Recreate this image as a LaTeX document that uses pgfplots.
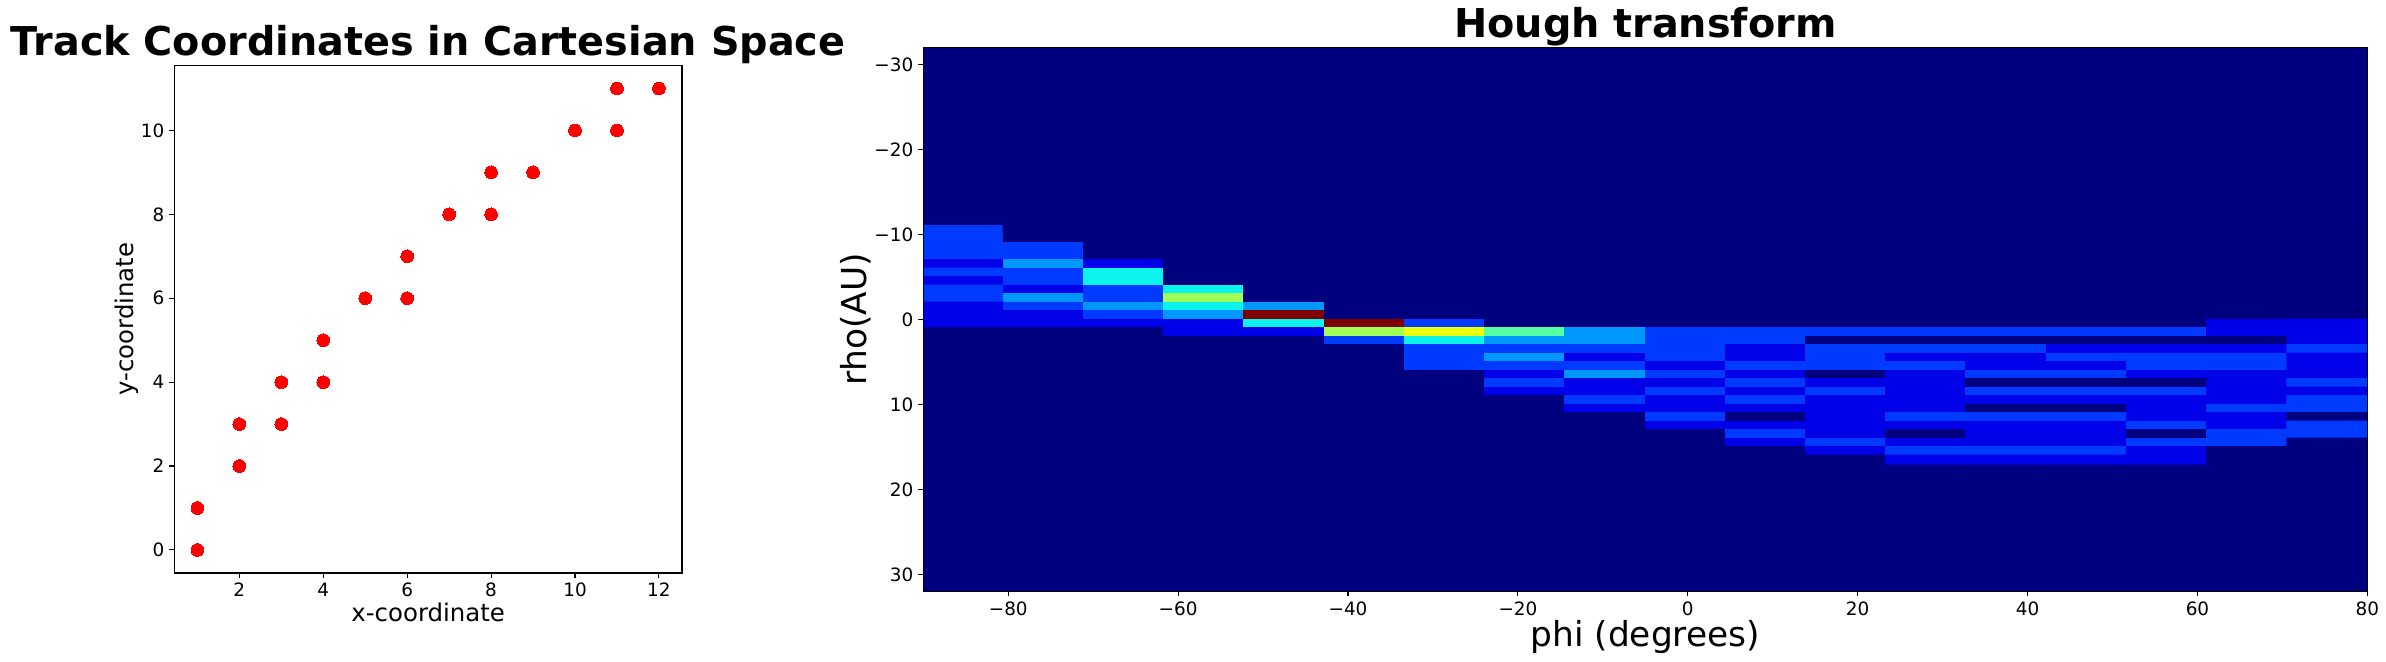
\documentclass[border=0pt]{standalone}
\usepackage{fontspec}
\setmainfont{DejaVu Sans}
\usepackage{pgfplots}
\pgfplotsset{compat=1.18}
\definecolor{jetzero}{rgb}{0,0,0.5}
\pgfplotsset{
  common/.style={
    scale only axis,
    anchor=south west,
    axis line style={black, line width=0.27pt},
    tick style={black, line width=0.27pt},
    major tick length=1.22pt,
    tick align=outside,
    xtick pos=bottom,
    ytick pos=left,
    /pgf/number format/assume math mode=true,
    ticklabel style={font=\fontsize{4.6}{5.5}\selectfont, inner sep=1.1pt},
    title style={font=\fontsize{9.93}{12}\selectfont\bfseries, anchor=base, at={(0.5,1)}, yshift=-3.65pt},
  },
  colormap={mpljet}{
    rgb255=(0,0,127) rgb255=(0,0,233) rgb255=(0,58,255) rgb255=(0,151,255)
    rgb255=(11,243,236) rgb255=(86,255,162) rgb255=(160,255,86) rgb255=(236,255,11)
    rgb255=(255,173,0) rgb255=(255,86,0) rgb255=(233,0,0) rgb255=(127,0,0)
  },
}
\begin{document}
\begin{tikzpicture}[x=0.25pt,y=0.25pt]
\useasboundingbox (0,0) rectangle (2386,662);

% left: hits in cartesian space
\begin{axis}[
  common,
  at={(43.575pt,22.25pt)},
  width=126.93pt, height=126.9pt,
  xmin=0.45, xmax=12.55,
  ymin=-0.55, ymax=11.55,
  xtick={2,4,6,8,10,12},
  ytick={0,2,4,6,8,10},
  title={Track Coordinates in Cartesian Space},
  xlabel={x-coordinate},
  ylabel={y-coordinate},
  label style={font=\fontsize{6.1}{7.3}\selectfont},
  xlabel style={at={(axis description cs:0.5,0)}, anchor=base, yshift=-12.2pt},
  ylabel style={at={(axis description cs:0,0.5)}, anchor=base, yshift=10.3pt},
]
\addplot[only marks, mark=*, mark size=1.59pt, mark options={fill=red, draw=red, line width=0pt}]
  coordinates {(1,0)(1,1)(2,2)(2,3)(3,3)(3,4)(4,4)(4,5)(5,6)(6,6)(6,7)(7,8)(8,8)(8,9)(9,9)(10,10)(11,10)(11,11)(12,11)};
\end{axis}

% right: accumulator, cells outside the table are empty (0)
\begin{axis}[
  common,
  at={(230.825pt,17.675pt)},
  width=361pt, height=136pt,
  axis on top,
  xmin=-90, xmax=80,
  ymin=-32, ymax=32,
  y dir=reverse,
  xtick={-80,-60,-40,-20,0,20,40,60,80},
  xticklabels={−80,−60,−40,−20,0,20,40,60,80},
  ytick={-30,-20,-10,0,10,20,30},
  yticklabels={−30,−20,−10,0,10,20,30},
  title={Hough transform},
  xlabel={phi (degrees)},
  ylabel={rho(AU)},
  label style={font=\fontsize{8.6}{10.3}\selectfont},
  xlabel style={at={(axis description cs:0.5,0)}, anchor=base, yshift=-13.9pt},
  ylabel style={at={(axis description cs:0,0.5)}, anchor=base, yshift=14.3pt},
  colormap name=mpljet,
  point meta min=0, point meta max=11,
  axis background/.style={fill=jetzero},
]
\addplot[matrix plot*, mesh/cols=18, point meta=explicit]
  table[x=x, y=y, meta=c, row sep=\\] {
x y c\\
-85.28 -10.5 2\\ -75.83 -10.5 0\\ -66.39 -10.5 0\\ -56.94 -10.5 0\\ -47.5 -10.5 0\\ -38.06 -10.5 0\\ -28.61 -10.5 0\\ -19.17 -10.5 0\\ -9.72 -10.5 0\\ -0.28 -10.5 0\\ 9.17 -10.5 0\\ 18.61 -10.5 0\\ 28.06 -10.5 0\\ 37.5 -10.5 0\\ 46.94 -10.5 0\\ 56.39 -10.5 0\\ 65.83 -10.5 0\\ 75.28 -10.5 0\\
-85.28 -9.5 2\\ -75.83 -9.5 0\\ -66.39 -9.5 0\\ -56.94 -9.5 0\\ -47.5 -9.5 0\\ -38.06 -9.5 0\\ -28.61 -9.5 0\\ -19.17 -9.5 0\\ -9.72 -9.5 0\\ -0.28 -9.5 0\\ 9.17 -9.5 0\\ 18.61 -9.5 0\\ 28.06 -9.5 0\\ 37.5 -9.5 0\\ 46.94 -9.5 0\\ 56.39 -9.5 0\\ 65.83 -9.5 0\\ 75.28 -9.5 0\\
-85.28 -8.5 2\\ -75.83 -8.5 2\\ -66.39 -8.5 0\\ -56.94 -8.5 0\\ -47.5 -8.5 0\\ -38.06 -8.5 0\\ -28.61 -8.5 0\\ -19.17 -8.5 0\\ -9.72 -8.5 0\\ -0.28 -8.5 0\\ 9.17 -8.5 0\\ 18.61 -8.5 0\\ 28.06 -8.5 0\\ 37.5 -8.5 0\\ 46.94 -8.5 0\\ 56.39 -8.5 0\\ 65.83 -8.5 0\\ 75.28 -8.5 0\\
-85.28 -7.5 2\\ -75.83 -7.5 2\\ -66.39 -7.5 0\\ -56.94 -7.5 0\\ -47.5 -7.5 0\\ -38.06 -7.5 0\\ -28.61 -7.5 0\\ -19.17 -7.5 0\\ -9.72 -7.5 0\\ -0.28 -7.5 0\\ 9.17 -7.5 0\\ 18.61 -7.5 0\\ 28.06 -7.5 0\\ 37.5 -7.5 0\\ 46.94 -7.5 0\\ 56.39 -7.5 0\\ 65.83 -7.5 0\\ 75.28 -7.5 0\\
-85.28 -6.5 1\\ -75.83 -6.5 3\\ -66.39 -6.5 1\\ -56.94 -6.5 0\\ -47.5 -6.5 0\\ -38.06 -6.5 0\\ -28.61 -6.5 0\\ -19.17 -6.5 0\\ -9.72 -6.5 0\\ -0.28 -6.5 0\\ 9.17 -6.5 0\\ 18.61 -6.5 0\\ 28.06 -6.5 0\\ 37.5 -6.5 0\\ 46.94 -6.5 0\\ 56.39 -6.5 0\\ 65.83 -6.5 0\\ 75.28 -6.5 0\\
-85.28 -5.5 2\\ -75.83 -5.5 2\\ -66.39 -5.5 4\\ -56.94 -5.5 0\\ -47.5 -5.5 0\\ -38.06 -5.5 0\\ -28.61 -5.5 0\\ -19.17 -5.5 0\\ -9.72 -5.5 0\\ -0.28 -5.5 0\\ 9.17 -5.5 0\\ 18.61 -5.5 0\\ 28.06 -5.5 0\\ 37.5 -5.5 0\\ 46.94 -5.5 0\\ 56.39 -5.5 0\\ 65.83 -5.5 0\\ 75.28 -5.5 0\\
-85.28 -4.5 1\\ -75.83 -4.5 2\\ -66.39 -4.5 4\\ -56.94 -4.5 0\\ -47.5 -4.5 0\\ -38.06 -4.5 0\\ -28.61 -4.5 0\\ -19.17 -4.5 0\\ -9.72 -4.5 0\\ -0.28 -4.5 0\\ 9.17 -4.5 0\\ 18.61 -4.5 0\\ 28.06 -4.5 0\\ 37.5 -4.5 0\\ 46.94 -4.5 0\\ 56.39 -4.5 0\\ 65.83 -4.5 0\\ 75.28 -4.5 0\\
-85.28 -3.5 2\\ -75.83 -3.5 1\\ -66.39 -3.5 2\\ -56.94 -3.5 4\\ -47.5 -3.5 0\\ -38.06 -3.5 0\\ -28.61 -3.5 0\\ -19.17 -3.5 0\\ -9.72 -3.5 0\\ -0.28 -3.5 0\\ 9.17 -3.5 0\\ 18.61 -3.5 0\\ 28.06 -3.5 0\\ 37.5 -3.5 0\\ 46.94 -3.5 0\\ 56.39 -3.5 0\\ 65.83 -3.5 0\\ 75.28 -3.5 0\\
-85.28 -2.5 2\\ -75.83 -2.5 3\\ -66.39 -2.5 2\\ -56.94 -2.5 6\\ -47.5 -2.5 0\\ -38.06 -2.5 0\\ -28.61 -2.5 0\\ -19.17 -2.5 0\\ -9.72 -2.5 0\\ -0.28 -2.5 0\\ 9.17 -2.5 0\\ 18.61 -2.5 0\\ 28.06 -2.5 0\\ 37.5 -2.5 0\\ 46.94 -2.5 0\\ 56.39 -2.5 0\\ 65.83 -2.5 0\\ 75.28 -2.5 0\\
-85.28 -1.5 1\\ -75.83 -1.5 2\\ -66.39 -1.5 3\\ -56.94 -1.5 4\\ -47.5 -1.5 3\\ -38.06 -1.5 0\\ -28.61 -1.5 0\\ -19.17 -1.5 0\\ -9.72 -1.5 0\\ -0.28 -1.5 0\\ 9.17 -1.5 0\\ 18.61 -1.5 0\\ 28.06 -1.5 0\\ 37.5 -1.5 0\\ 46.94 -1.5 0\\ 56.39 -1.5 0\\ 65.83 -1.5 0\\ 75.28 -1.5 0\\
-85.28 -0.5 1\\ -75.83 -0.5 1\\ -66.39 -0.5 2\\ -56.94 -0.5 3\\ -47.5 -0.5 11\\ -38.06 -0.5 0\\ -28.61 -0.5 0\\ -19.17 -0.5 0\\ -9.72 -0.5 0\\ -0.28 -0.5 0\\ 9.17 -0.5 0\\ 18.61 -0.5 0\\ 28.06 -0.5 0\\ 37.5 -0.5 0\\ 46.94 -0.5 0\\ 56.39 -0.5 0\\ 65.83 -0.5 0\\ 75.28 -0.5 0\\
-85.28 0.5 1\\ -75.83 0.5 1\\ -66.39 0.5 1\\ -56.94 0.5 1\\ -47.5 0.5 4\\ -38.06 0.5 11\\ -28.61 0.5 2\\ -19.17 0.5 0\\ -9.72 0.5 0\\ -0.28 0.5 0\\ 9.17 0.5 0\\ 18.61 0.5 0\\ 28.06 0.5 0\\ 37.5 0.5 0\\ 46.94 0.5 0\\ 56.39 0.5 0\\ 65.83 0.5 1\\ 75.28 0.5 1\\
-85.28 1.5 0\\ -75.83 1.5 0\\ -66.39 1.5 0\\ -56.94 1.5 1\\ -47.5 1.5 1\\ -38.06 1.5 6\\ -28.61 1.5 7\\ -19.17 1.5 5\\ -9.72 1.5 3\\ -0.28 1.5 2\\ 9.17 1.5 2\\ 18.61 1.5 2\\ 28.06 1.5 2\\ 37.5 1.5 2\\ 46.94 1.5 2\\ 56.39 1.5 2\\ 65.83 1.5 1\\ 75.28 1.5 1\\
-85.28 2.5 0\\ -75.83 2.5 0\\ -66.39 2.5 0\\ -56.94 2.5 0\\ -47.5 2.5 0\\ -38.06 2.5 2\\ -28.61 2.5 4\\ -19.17 2.5 3\\ -9.72 2.5 3\\ -0.28 2.5 2\\ 9.17 2.5 2\\ 18.61 2.5 0\\ 28.06 2.5 0\\ 37.5 2.5 0\\ 46.94 2.5 0\\ 56.39 2.5 0\\ 65.83 2.5 0\\ 75.28 2.5 1\\
-85.28 3.5 0\\ -75.83 3.5 0\\ -66.39 3.5 0\\ -56.94 3.5 0\\ -47.5 3.5 0\\ -38.06 3.5 0\\ -28.61 3.5 2\\ -19.17 3.5 2\\ -9.72 3.5 2\\ -0.28 3.5 2\\ 9.17 3.5 1\\ 18.61 3.5 2\\ 28.06 3.5 2\\ 37.5 3.5 2\\ 46.94 3.5 1\\ 56.39 3.5 1\\ 65.83 3.5 1\\ 75.28 3.5 2\\
-85.28 4.5 0\\ -75.83 4.5 0\\ -66.39 4.5 0\\ -56.94 4.5 0\\ -47.5 4.5 0\\ -38.06 4.5 0\\ -28.61 4.5 2\\ -19.17 4.5 3\\ -9.72 4.5 1\\ -0.28 4.5 2\\ 9.17 4.5 1\\ 18.61 4.5 2\\ 28.06 4.5 1\\ 37.5 4.5 1\\ 46.94 4.5 2\\ 56.39 4.5 2\\ 65.83 4.5 2\\ 75.28 4.5 1\\
-85.28 5.5 0\\ -75.83 5.5 0\\ -66.39 5.5 0\\ -56.94 5.5 0\\ -47.5 5.5 0\\ -38.06 5.5 0\\ -28.61 5.5 2\\ -19.17 5.5 2\\ -9.72 5.5 2\\ -0.28 5.5 1\\ 9.17 5.5 2\\ 18.61 5.5 2\\ 28.06 5.5 2\\ 37.5 5.5 1\\ 46.94 5.5 1\\ 56.39 5.5 2\\ 65.83 5.5 2\\ 75.28 5.5 1\\
-85.28 6.5 0\\ -75.83 6.5 0\\ -66.39 6.5 0\\ -56.94 6.5 0\\ -47.5 6.5 0\\ -38.06 6.5 0\\ -28.61 6.5 0\\ -19.17 6.5 1\\ -9.72 6.5 3\\ -0.28 6.5 2\\ 9.17 6.5 1\\ 18.61 6.5 0\\ 28.06 6.5 1\\ 37.5 6.5 2\\ 46.94 6.5 2\\ 56.39 6.5 1\\ 65.83 6.5 1\\ 75.28 6.5 1\\
-85.28 7.5 0\\ -75.83 7.5 0\\ -66.39 7.5 0\\ -56.94 7.5 0\\ -47.5 7.5 0\\ -38.06 7.5 0\\ -28.61 7.5 0\\ -19.17 7.5 2\\ -9.72 7.5 1\\ -0.28 7.5 1\\ 9.17 7.5 2\\ 18.61 7.5 1\\ 28.06 7.5 1\\ 37.5 7.5 0\\ 46.94 7.5 0\\ 56.39 7.5 0\\ 65.83 7.5 1\\ 75.28 7.5 2\\
-85.28 8.5 0\\ -75.83 8.5 0\\ -66.39 8.5 0\\ -56.94 8.5 0\\ -47.5 8.5 0\\ -38.06 8.5 0\\ -28.61 8.5 0\\ -19.17 8.5 1\\ -9.72 8.5 1\\ -0.28 8.5 2\\ 9.17 8.5 1\\ 18.61 8.5 2\\ 28.06 8.5 1\\ 37.5 8.5 2\\ 46.94 8.5 2\\ 56.39 8.5 2\\ 65.83 8.5 1\\ 75.28 8.5 1\\
-85.28 9.5 0\\ -75.83 9.5 0\\ -66.39 9.5 0\\ -56.94 9.5 0\\ -47.5 9.5 0\\ -38.06 9.5 0\\ -28.61 9.5 0\\ -19.17 9.5 0\\ -9.72 9.5 2\\ -0.28 9.5 1\\ 9.17 9.5 2\\ 18.61 9.5 1\\ 28.06 9.5 1\\ 37.5 9.5 1\\ 46.94 9.5 1\\ 56.39 9.5 1\\ 65.83 9.5 1\\ 75.28 9.5 2\\
-85.28 10.5 0\\ -75.83 10.5 0\\ -66.39 10.5 0\\ -56.94 10.5 0\\ -47.5 10.5 0\\ -38.06 10.5 0\\ -28.61 10.5 0\\ -19.17 10.5 0\\ -9.72 10.5 1\\ -0.28 10.5 1\\ 9.17 10.5 1\\ 18.61 10.5 1\\ 28.06 10.5 1\\ 37.5 10.5 0\\ 46.94 10.5 0\\ 56.39 10.5 1\\ 65.83 10.5 2\\ 75.28 10.5 2\\
-85.28 11.5 0\\ -75.83 11.5 0\\ -66.39 11.5 0\\ -56.94 11.5 0\\ -47.5 11.5 0\\ -38.06 11.5 0\\ -28.61 11.5 0\\ -19.17 11.5 0\\ -9.72 11.5 0\\ -0.28 11.5 2\\ 9.17 11.5 0\\ 18.61 11.5 1\\ 28.06 11.5 2\\ 37.5 11.5 2\\ 46.94 11.5 2\\ 56.39 11.5 1\\ 65.83 11.5 1\\ 75.28 11.5 0\\
-85.28 12.5 0\\ -75.83 12.5 0\\ -66.39 12.5 0\\ -56.94 12.5 0\\ -47.5 12.5 0\\ -38.06 12.5 0\\ -28.61 12.5 0\\ -19.17 12.5 0\\ -9.72 12.5 0\\ -0.28 12.5 1\\ 9.17 12.5 1\\ 18.61 12.5 1\\ 28.06 12.5 1\\ 37.5 12.5 1\\ 46.94 12.5 1\\ 56.39 12.5 2\\ 65.83 12.5 1\\ 75.28 12.5 2\\
-85.28 13.5 0\\ -75.83 13.5 0\\ -66.39 13.5 0\\ -56.94 13.5 0\\ -47.5 13.5 0\\ -38.06 13.5 0\\ -28.61 13.5 0\\ -19.17 13.5 0\\ -9.72 13.5 0\\ -0.28 13.5 0\\ 9.17 13.5 2\\ 18.61 13.5 1\\ 28.06 13.5 0\\ 37.5 13.5 1\\ 46.94 13.5 1\\ 56.39 13.5 0\\ 65.83 13.5 2\\ 75.28 13.5 2\\
-85.28 14.5 0\\ -75.83 14.5 0\\ -66.39 14.5 0\\ -56.94 14.5 0\\ -47.5 14.5 0\\ -38.06 14.5 0\\ -28.61 14.5 0\\ -19.17 14.5 0\\ -9.72 14.5 0\\ -0.28 14.5 0\\ 9.17 14.5 1\\ 18.61 14.5 2\\ 28.06 14.5 1\\ 37.5 14.5 1\\ 46.94 14.5 1\\ 56.39 14.5 2\\ 65.83 14.5 2\\ 75.28 14.5 0\\
-85.28 15.5 0\\ -75.83 15.5 0\\ -66.39 15.5 0\\ -56.94 15.5 0\\ -47.5 15.5 0\\ -38.06 15.5 0\\ -28.61 15.5 0\\ -19.17 15.5 0\\ -9.72 15.5 0\\ -0.28 15.5 0\\ 9.17 15.5 0\\ 18.61 15.5 1\\ 28.06 15.5 2\\ 37.5 15.5 2\\ 46.94 15.5 2\\ 56.39 15.5 1\\ 65.83 15.5 0\\ 75.28 15.5 0\\
-85.28 16.5 0\\ -75.83 16.5 0\\ -66.39 16.5 0\\ -56.94 16.5 0\\ -47.5 16.5 0\\ -38.06 16.5 0\\ -28.61 16.5 0\\ -19.17 16.5 0\\ -9.72 16.5 0\\ -0.28 16.5 0\\ 9.17 16.5 0\\ 18.61 16.5 0\\ 28.06 16.5 1\\ 37.5 16.5 1\\ 46.94 16.5 1\\ 56.39 16.5 1\\ 65.83 16.5 0\\ 75.28 16.5 0\\
};
\end{axis}
\end{tikzpicture}
\end{document}
